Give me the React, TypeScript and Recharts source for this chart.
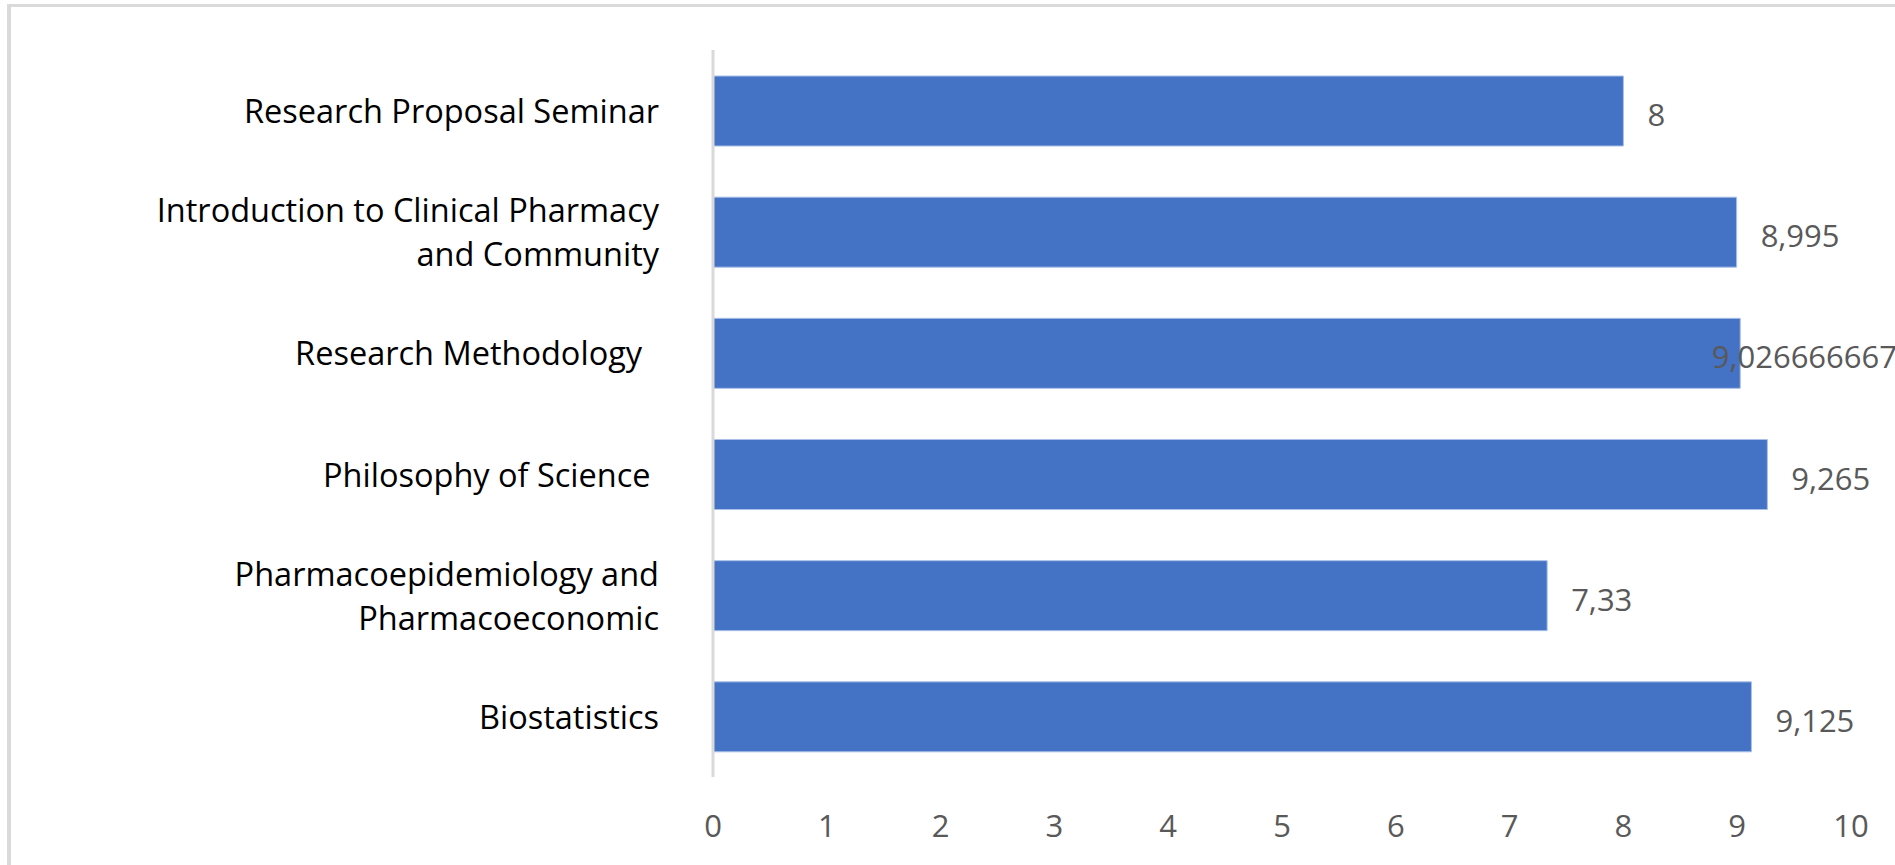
import { BarChart, Bar, XAxis, YAxis, LabelList } from "recharts"

const CHART_W = 1895
const CHART_H = 865

const subjects = [
  "Research Proposal Seminar",
  "Introduction to Clinical Pharmacy\nand Community",
  "Research Methodology  ",
  "Philosophy of Science ",
  "Pharmacoepidemiology and\nPharmacoeconomic",
  "Biostatistics",
]
const scores = [8, 8.995, 9.026666667, 9.265, 7.33, 9.125]
const xTicks = [0, 1, 2, 3, 4, 5, 6, 7, 8, 9, 10]

const data = subjects.map((name, i) => ({ name, score: scores[i] }))

const FONT = "'Open Sans', 'Noto Sans', sans-serif"

// excel style decimal comma
const fmt = (v: number) => String(v).replace(".", ",")

function CategoryTick({ x, y, payload }: any) {
  const lines = String(payload.value).split("\n")
  const lh = 44
  const top = y - ((lines.length - 1) * lh) / 2
  return (
    <text
      x={x}
      y={top}
      textAnchor="end"
      fontFamily={FONT}
      fontSize={32.5}
      fill="#000000"
      xmlSpace="preserve"
      style={{ whiteSpace: "pre" }}
    >
      {lines.map((l, i) => (
        <tspan key={i} x={x} y={top + i * lh} dominantBaseline="central">
          {l}
        </tspan>
      ))}
    </text>
  )
}

function ValueLabel(props: any) {
  const { x, y, width, height, value } = props
  const text = fmt(Number(value))
  const size = 31
  // rough width in open sans: digits .572em, comma .25em
  const est = [...text].reduce((s, c) => s + (c === "," ? 0.25 : 0.572) * size, 0)
  let tx = Number(x) + Number(width) + 24
  let anchor: "start" | "end" = "start"
  if (tx + est > CHART_W) {
    tx = CHART_W + 2
    anchor = "end"
  }
  return (
    <text
      x={tx}
      y={Number(y) + Number(height) / 2 + 3}
      textAnchor={anchor}
      dominantBaseline="central"
      fontFamily={FONT}
      fontSize={size}
      fill="#595959"
    >
      {text}
    </text>
  )
}

export default function App() {
  return (
    <div
      style={{
        position: "absolute",
        left: 0,
        top: 0,
        width: CHART_W,
        height: CHART_H,
        background: "#ffffff",
        overflow: "hidden",
      }}
    >
      <div
        style={{
          position: "absolute",
          left: 7,
          top: 4,
          right: 0,
          bottom: 0,
          boxSizing: "border-box",
          borderTop: "3px solid #dadada",
          borderLeft: "4px solid #dadada",
        }}
      />
      <div style={{ position: "absolute", left: 0, top: 0 }}>
        <BarChart
          width={CHART_W}
          height={CHART_H}
          data={data}
          layout="vertical"
          margin={{ top: 50, right: 44, bottom: 28, left: 0 }}
        >
          <XAxis
            type="number"
            domain={[0, 10]}
            ticks={xTicks}
            interval={0}
            axisLine={false}
            tickLine={false}
            tickSize={0}
            tickMargin={38}
            height={60}
            tick={{ fill: "#595959", fontSize: 31, fontFamily: FONT }}
          />
          <YAxis
            type="category"
            dataKey="name"
            width={713}
            axisLine={{ stroke: "#d9d9d9", strokeWidth: 3 }}
            tickLine={false}
            tickSize={0}
            tickMargin={54}
            interval={0}
            tick={<CategoryTick />}
          />
          <Bar
            dataKey="score"
            barSize={70}
            fill="#4472c4"
            stroke="#a9c0e8"
            strokeWidth={1}
            isAnimationActive={false}
          >
            <LabelList dataKey="score" content={<ValueLabel />} />
          </Bar>
        </BarChart>
      </div>
    </div>
  )
}
